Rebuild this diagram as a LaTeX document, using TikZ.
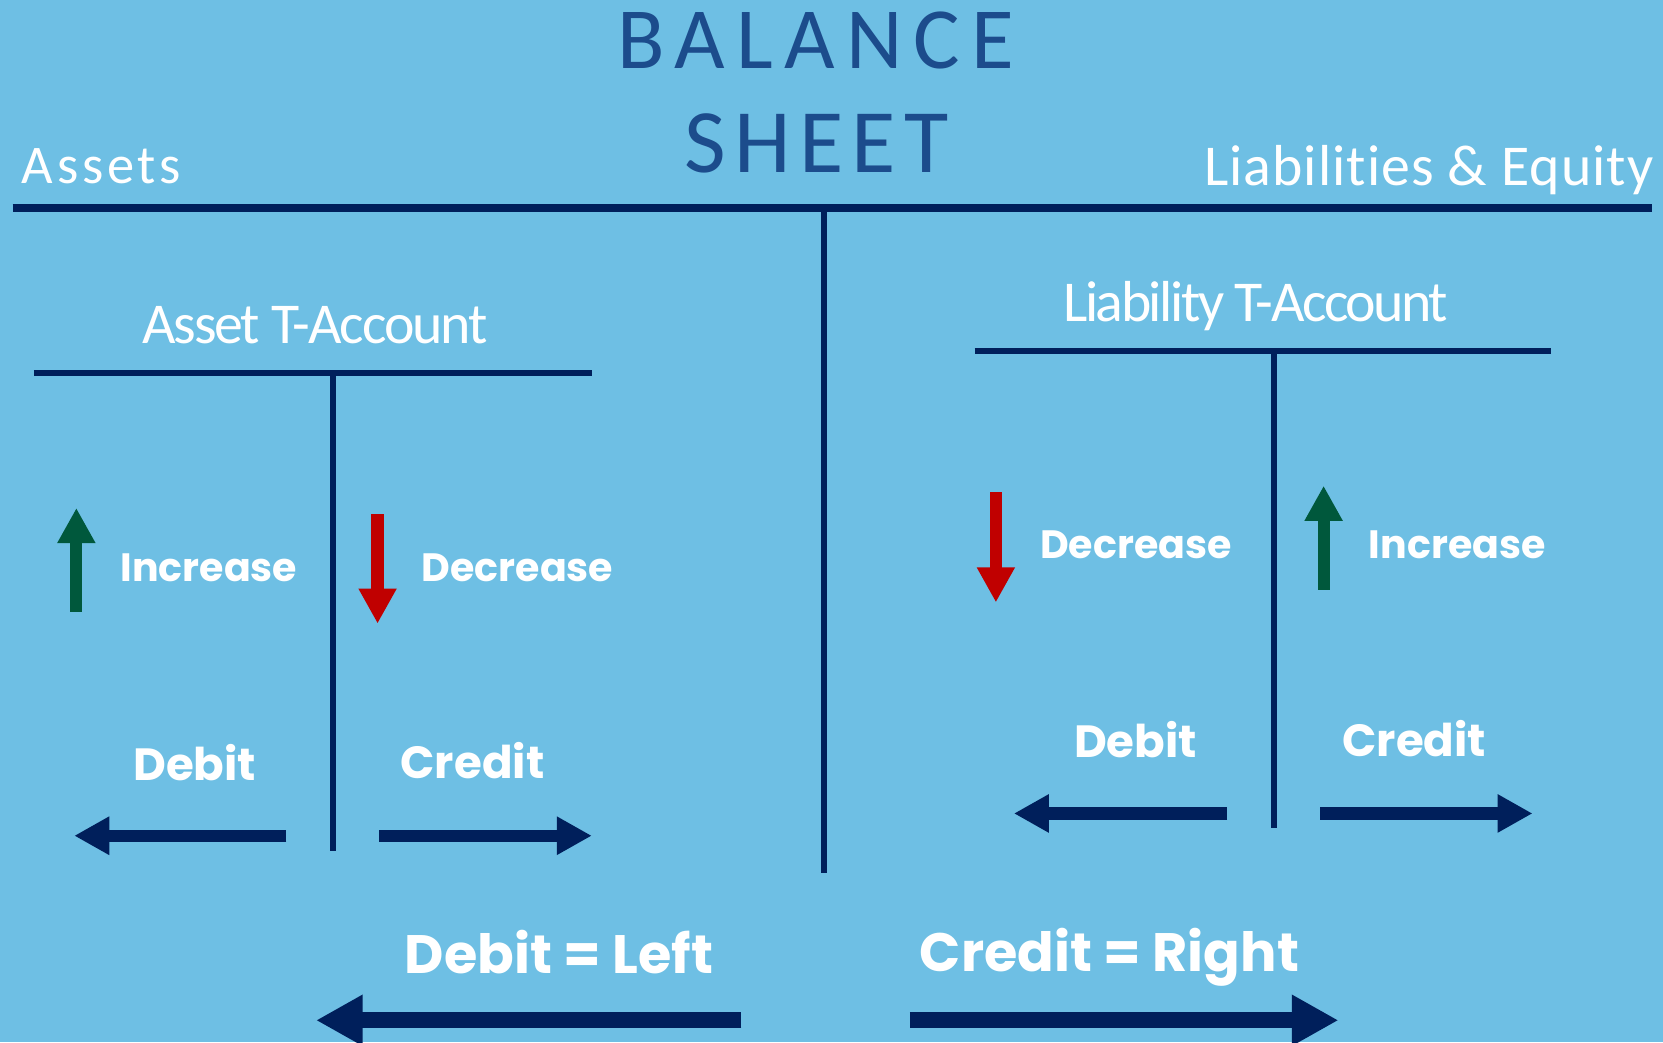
\documentclass[tikz,border=0pt]{standalone}
\usepackage{fontspec}
\setmainfont{Poppins}
\newfontfamily\thin{Carlito}[Ligatures=NoCommon]
\usetikzlibrary{arrows.meta}
\definecolor{bg}{RGB}{110,191,228}
\definecolor{navy}{RGB}{0,31,91}
\definecolor{titleblue}{RGB}{28,76,140}
\definecolor{upgreen}{RGB}{0,88,60}
\definecolor{downred}{RGB}{192,0,0}
\begin{document}
\begin{tikzpicture}[x=0.01cm,y=-0.01cm,
  titletext/.style={text=titleblue, inner sep=0pt, anchor=base},
  thinlab/.style={text=white, inner sep=0pt},
  boldlab/.style={text=white, inner sep=0pt, anchor=base west, font=\bfseries\fontsize{10.6}{13}\selectfont},
  sidelab/.style={text=white, inner sep=0pt, anchor=base west, font=\bfseries\fontsize{12.1}{15}\selectfont},
  biglab/.style={text=white, inner sep=0pt, anchor=base west, font=\bfseries\fontsize{14.5}{18}\selectfont},
  mainrule/.style={navy, line width=0.075cm},
  centerrule/.style={navy, line width=0.06cm},
  trule/.style={navy, line width=0.055cm},
  uparrow/.style={upgreen, line width=0.115cm, -{Triangle[length=0.33cm,width=0.336cm]}},
  downarrow/.style={downred, line width=0.115cm, -{Triangle[length=0.33cm,width=0.336cm]}},
  sidearrow/.style={navy, line width=0.116cm, -{Triangle[length=0.33cm,width=0.34cm]}},
  bigarrow/.style={navy, line width=0.15cm, -{Triangle[length=0.44cm,width=0.452cm]}}
]
\fill[bg] (0,0) rectangle (1568,982.5);
\useasboundingbox (0,0) rectangle (1568,982.5);

% Titles
\node[titletext] (bal) at (769,65) {\thin\fontsize{23.4}{28}\selectfont\addfontfeatures{LetterSpace=12.8}BALANCE};
\node[titletext] (sheet) at (770,163) {\thin\fontsize{24.3}{29}\selectfont\addfontfeatures{LetterSpace=9.2}SHEET};
\node[thinlab, anchor=base west] (assets) at (20,172.6) {\thin\fontsize{14.6}{17}\selectfont\addfontfeatures{LetterSpace=6.8}Assets};
\node[thinlab, anchor=base east] (liabeq) at (1560,175) {\thin\fontsize{15.5}{18}\selectfont\addfontfeatures{LetterSpace=1.8}Liabilities \& Equity};

% Main T
\coordinate (mainL) at (12,196);
\coordinate (mainR) at (1558,196);
\coordinate (vtop) at (777,196);
\coordinate (vbot) at (777,823);
\draw[mainrule] (mainL) -- (mainR);
\draw[centerrule] (vtop) -- (vbot);

% Asset T-account
\node[thinlab, anchor=base] (assetT) at (297,323.5) {\thin\fontsize{15.5}{18}\selectfont\addfontfeatures{LetterSpace=-3.6}Asset T-Account};
\coordinate (aL) at (32,352);
\coordinate (aR) at (558,352);
\coordinate (aTop) at (314,352);
\coordinate (aBot) at (314,802);
\draw[trule] (aL) -- (aR);
\draw[trule] (aTop) -- (aBot);

\coordinate (agS) at (72,577);
\coordinate (agE) at (72,479);
\draw[uparrow] (agS) -- (agE);
\node[boldlab] (aInc) at (113,548) {Increase};
\coordinate (arS) at (356,485);
\coordinate (arE) at (356,588);
\draw[downarrow] (arS) -- (arE);
\node[boldlab] (aDec) at (397,548) {Decrease};

\node[sidelab] (aDeb) at (125,735.6) {Debit};
\node[sidelab] (aCred) at (377,734) {Credit};
\coordinate (alS) at (270,788);
\coordinate (alE) at (70,788);
\draw[sidearrow] (alS) -- (alE);
\coordinate (arrS) at (357.6,788);
\coordinate (arrE) at (558,788);
\draw[sidearrow] (arrS) -- (arrE);

% Liability T-account
\node[thinlab, anchor=base] (liabT) at (1184,303) {\thin\fontsize{15.5}{18}\selectfont\addfontfeatures{LetterSpace=-4.3}Liability T-Account};
\coordinate (lL) at (919,331);
\coordinate (lR) at (1462,331);
\coordinate (lTop) at (1201,331);
\coordinate (lBot) at (1201,781);
\draw[trule] (lL) -- (lR);
\draw[trule] (lTop) -- (lBot);

\coordinate (lrS) at (939,464);
\coordinate (lrE) at (939,568);
\draw[downarrow] (lrS) -- (lrE);
\node[boldlab] (lDec) at (980,527) {Decrease};
\coordinate (lgS) at (1248,556);
\coordinate (lgE) at (1248,458);
\draw[uparrow] (lgS) -- (lgE);
\node[boldlab] (lInc) at (1290,527) {Increase};

\node[sidelab] (lDeb) at (1012,714) {Debit};
\node[sidelab] (lCred) at (1265,713) {Credit};
\coordinate (llS) at (1157,767);
\coordinate (llE) at (956,767);
\draw[sidearrow] (llS) -- (llE);
\coordinate (lrrS) at (1245,767);
\coordinate (lrrE) at (1445,767);
\draw[sidearrow] (lrrS) -- (lrrE);

% Bottom
\node[biglab] (debLeft) at (381,917.5) {Debit = Left};
\node[biglab] (credRight) at (866.6,915.6) {Credit = Right};
\coordinate (blS) at (699,962);
\coordinate (blE) at (298,962);
\draw[bigarrow] (blS) -- (blE);
\coordinate (brS) at (858,962);
\coordinate (brE) at (1262,962);
\draw[bigarrow] (brS) -- (brE);
\end{tikzpicture}
\end{document}
